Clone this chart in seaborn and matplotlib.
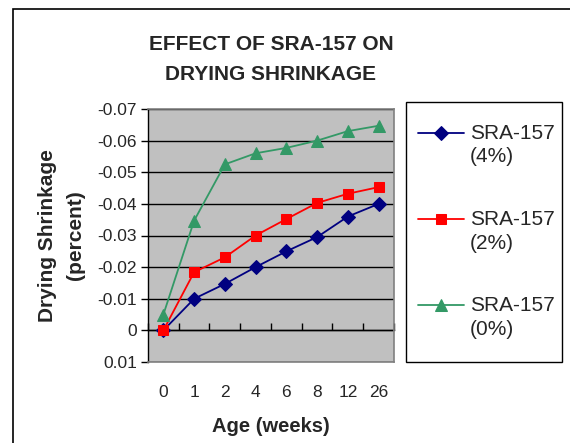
import numpy as np
import pandas as pd
import seaborn as sns
import matplotlib.pyplot as plt
from matplotlib.patches import Rectangle

# values (shrinkage in percent, plotted on an inverted axis)
ages = ["0", "1", "2", "4", "6", "8", "12", "26"]
sra_4 = [0.0, -0.010, -0.0147, -0.020, -0.025, -0.0295, -0.036, -0.040]
sra_2 = [0.0, -0.0184, -0.0231, -0.030, -0.0352, -0.0403, -0.0432, -0.0453]
sra_0 = [-0.005, -0.0347, -0.0525, -0.056, -0.0577, -0.060, -0.063, -0.0647]
series_names = ["SRA-157\n(4%)", "SRA-157\n(2%)", "SRA-157\n(0%)"]
colors = ["#000080", "#FF0000", "#339966"]
markers = ["D", "s", "^"]
marker_sizes = [7.5, 7, 8.5]
y_ticks = [-0.07, -0.06, -0.05, -0.04, -0.03, -0.02, -0.01, 0.0, 0.01]
y_tick_labels = ["-0.07", "-0.06", "-0.05", "-0.04", "-0.03", "-0.02", "-0.01", "0", "0.01"]

df = pd.DataFrame({
    "pos": list(range(len(ages))) * 3,
    "value": sra_4 + sra_2 + sra_0,
    "series": np.repeat(series_names, len(ages)),
})

sns.set_style("white")
plt.rcParams["font.family"] = ["Liberation Sans", "DejaVu Sans"]

fig = plt.figure(figsize=(5.7, 4.43), dpi=100)
ax = fig.add_axes([148 / 570, 1 - 362 / 443, 246 / 570, 253 / 443])
ax.set_facecolor("#c0c0c0")

sns.lineplot(data=df, x="pos", y="value", hue="series", style="series",
             hue_order=series_names, style_order=series_names,
             palette=colors, markers=markers, dashes=False,
             linewidth=1.3, errorbar=None, legend=False, ax=ax)

lines = list(ax.get_lines())
for line, c, ms in zip(lines, colors, marker_sizes):
    line.set_markersize(ms)
    line.set_markeredgecolor(c)
    line.set_markerfacecolor(c)

# axes setup
ax.set_xlim(-0.5, len(ages) - 0.5)
ax.set_ylim(y_ticks[-1], y_ticks[0])
ax.set_yticks(y_ticks, y_tick_labels)
ax.set_xticks(range(len(ages)), ages)
ax.tick_params(axis="x", length=0, pad=16.8, labelsize=12.5)
ax.tick_params(axis="y", left=True, direction="out", length=5, width=1, color="black", labelsize=12.5, pad=3)
ax.yaxis.grid(True, color="black", linewidth=1)
ax.set_axisbelow(True)
for side in ["top", "right", "bottom"]:
    ax.spines[side].set_color("#808080")
    ax.spines[side].set_linewidth(1.2)
ax.spines["left"].set_color("black")
ax.spines["left"].set_linewidth(1)

# category axis crossing at zero, with tick marks between categories
zero_loc = (y_ticks[-1] - 0) / (y_ticks[-1] - y_ticks[0])
sec = ax.secondary_xaxis(zero_loc)
sec.set_xticks(np.arange(len(ages) + 1) - 0.5)
sec.tick_params(direction="in", length=5, width=1, color="black", labelbottom=False)
sec.spines["bottom"].set_color("black")
sec.spines["bottom"].set_linewidth(1)

ax.set_title("EFFECT OF SRA-157 ON\nDRYING SHRINKAGE", fontsize=15, fontweight="bold",
             linespacing=1.75, pad=21)
ax.set_ylabel("Drying Shrinkage\n(percent)", fontsize=15, fontweight="bold",
              linespacing=1.6, labelpad=9)
ax.set_xlabel("Age (weeks)", fontsize=14.5, fontweight="bold", labelpad=12)

leg = fig.legend(lines, series_names, loc="upper left",
                 bbox_to_anchor=(396 / 570, 1 - 102 / 443), bbox_transform=fig.transFigure,
                 borderaxespad=0, frameon=False,
                 fontsize=15, handlelength=2.2, handletextpad=0.3,
                 labelspacing=2.1, borderpad=1.05, handleheight=1.2)
for t in leg.get_texts():
    t.set_linespacing(1.3)
for col in leg._legend_handle_box.get_children():
    for hp in col.get_children():
        hp.align = "top"

# legend box
fig.add_artist(Rectangle((406 / 570, 1 - 362 / 443), 156 / 570, 260 / 443, transform=fig.transFigure,
                         fill=False, edgecolor="black", linewidth=1))

# outer chart border
fig.add_artist(Rectangle((13 / 570, -0.5), 2, 1.5 - 9 / 443, transform=fig.transFigure,
                         fill=False, edgecolor="black", linewidth=1.2))

fig.savefig("out.png", dpi=100)
